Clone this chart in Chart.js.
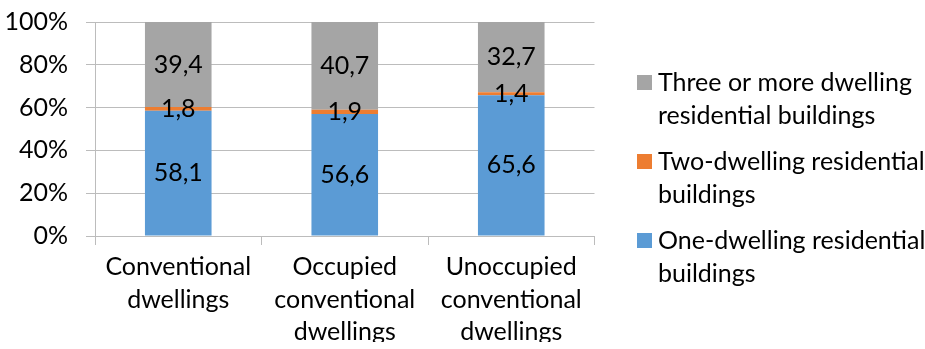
<!DOCTYPE html>
<html><head><meta charset="utf-8">
<script src="https://cdn.jsdelivr.net/npm/chart.js@4/dist/chart.umd.min.js"></script>
<style>html,body{margin:0;padding:0;background:#fff;} #wrap{width:925px;height:349px;}</style>
</head><body><div id="wrap"><canvas id="c" width="925" height="349"></canvas></div>
<script>
const categories = [['Conventional','dwellings'],['Occupied','conventional','dwellings'],['Unoccupied','conventional','dwellings']];
const seriesNames = ['One-dwelling residential buildings','Two-dwelling residential buildings','Three or more dwelling residential buildings'];
const legendLines = [['One-dwelling residential','buildings'],['Two-dwelling residential','buildings'],['Three or more dwelling','residential buildings']];
const oneDwelling = [58.1, 56.6, 65.6];
const twoDwelling = [1.8, 1.9, 1.4];
const threePlus = [39.4, 40.7, 32.7];
const yTickValues = [0, 20, 40, 60, 80, 100];

const seriesValues = [oneDwelling, twoDwelling, threePlus];
const seriesColors = ['#5B9BD5', '#ED7D31', '#A5A5A5'];
const FONT = 'Lato';
const FS = 25;
const LH = 1.3;
const gridColor = '#bcbcbc';

const totals = categories.map((c, i) => seriesValues.reduce((s, arr) => s + arr[i], 0));
const fmt = v => String(v).replace('.', ',');

function swatch(color) {
  const c = document.createElement('canvas');
  c.width = 15; c.height = 15;
  const g = c.getContext('2d');
  g.fillStyle = color; g.fillRect(0, 0, 15, 15);
  return c;
}

const valueLabels = {
  id: 'valueLabels',
  afterDatasetsDraw(chart) {
    const ctx = chart.ctx;
    ctx.save();
    ctx.font = FS + 'px ' + FONT;
    ctx.fillStyle = '#000';
    ctx.textAlign = 'center';
    ctx.textBaseline = 'middle';
    chart.data.datasets.forEach((ds, di) => {
      const meta = chart.getDatasetMeta(di);
      meta.data.forEach((el, i) => {
        const p = el.getProps(['x', 'y', 'base'], true);
        ctx.fillText(fmt(seriesValues[di][i]), p.x, (p.y + p.base) / 2);
      });
    });
    ctx.restore();
  }
};

Chart.defaults.font.family = FONT;
Chart.defaults.font.size = FS;
Chart.defaults.font.lineHeight = LH;
Chart.defaults.color = '#000';

new Chart(document.getElementById('c'), {
  type: 'bar',
  data: {
    labels: categories,
    datasets: seriesNames.map((name, di) => ({
      label: name,
      data: seriesValues[di].map((v, i) => v / totals[i] * 100),
      backgroundColor: seriesColors[di],
      borderWidth: 0,
      barPercentage: 0.4,
      categoryPercentage: 1
    }))
  },
  options: {
    responsive: false,
    animation: false,
    layout: { padding: { left: 0, right: 0, top: 22, bottom: 7 } },
    plugins: {
      tooltip: { enabled: false },
      legend: {
        position: 'right',
        reverse: true,
        maxWidth: 294.5,
        labels: {
          usePointStyle: true,
          pointStyleWidth: 2,
          padding: 13,
          color: '#000',
          font: { family: FONT, size: FS, lineHeight: 1.32 },
          generateLabels(chart) {
            const items = Chart.defaults.plugins.legend.labels.generateLabels(chart);
            return items.map(it => Object.assign({}, it, {
              text: legendLines[it.datasetIndex],
              pointStyle: swatch(seriesColors[it.datasetIndex])
            }));
          }
        }
      }
    },
    scales: {
      x: {
        stacked: true,
        grid: { offset: true, drawOnChartArea: false, drawTicks: true, tickLength: 9, color: gridColor },
        border: { display: true, color: gridColor },
        ticks: { padding: 6, maxRotation: 0, autoSkip: false, color: '#000', font: { family: FONT, size: FS, lineHeight: LH } },
        afterFit(s) { s.height = 106; s.paddingLeft = 0; s.paddingRight = 0; }
      },
      y: {
        stacked: true,
        min: 0, max: 100,
        afterBuildTicks(s) { s.ticks = yTickValues.map(v => ({ value: v })); },
        grid: { color: gridColor, tickLength: 9 },
        border: { display: true, color: gridColor },
        ticks: { padding: 18, color: '#000', callback: v => v + '%', font: { family: FONT, size: FS, lineHeight: LH } },
        afterFit(s) { s.width = 95; s.paddingTop = 0; s.paddingBottom = 0; }
      },
      y2: {
        position: 'right',
        display: true,
        grid: { display: false },
        border: { display: false },
        ticks: { display: false },
        afterFit(s) { s.width = 36; s.paddingTop = 0; s.paddingBottom = 0; }
      }
    }
  },
  plugins: [valueLabels]
});
</script>
</body></html>
